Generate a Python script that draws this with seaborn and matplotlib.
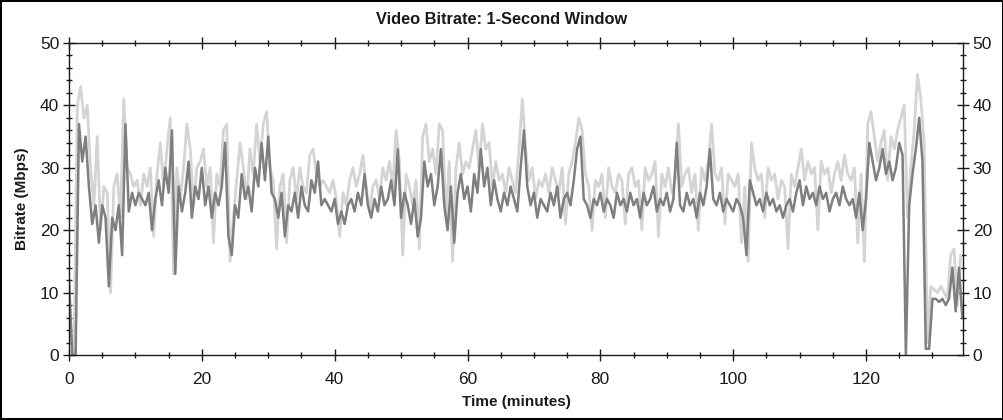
"""Video bitrate over time, 1-second window (dark = average, light = peaks)."""

import matplotlib.pyplot as plt
import numpy as np
import seaborn as sns
from matplotlib.ticker import MultipleLocator

# --- data, Mbps ---
# dark trace, one sample every half minute starting at t = 0
dark_mbps = [
    12, 0, 0, 37, 31, 35, 27, 21, 24, 18,
    24, 22, 11, 22, 20, 24, 16, 37, 23, 26,
    24, 26, 25, 24, 26, 20, 25, 28, 24, 30,
    26, 36, 13, 27, 23, 26, 31, 22, 27, 25,
    30, 24, 27, 22, 26, 24, 27, 34, 19, 16,
    24, 22, 29, 25, 27, 23, 30, 27, 34, 28,
    35, 26, 25, 22, 26, 19, 24, 23, 26, 22,
    27, 24, 23, 28, 26, 31, 24, 25, 24, 23,
    25, 21, 23, 21, 24, 25, 23, 26, 24, 29,
    24, 22, 25, 23, 27, 24, 25, 28, 24, 33,
    22, 26, 24, 21, 25, 19, 22, 31, 27, 29,
    24, 27, 33, 24, 20, 27, 18, 26, 29, 25,
    27, 23, 29, 26, 33, 27, 30, 24, 28, 25,
    23, 26, 24, 27, 25, 23, 30, 36, 27, 24,
    26, 22, 25, 24, 23, 26, 24, 27, 22, 25,
    26, 24, 28, 33, 35, 25, 24, 22, 25, 24,
    26, 23, 25, 24, 22, 26, 24, 25, 23, 26,
    24, 25, 22, 26, 24, 25, 27, 23, 25, 24,
    26, 23, 25, 34, 24, 23, 26, 24, 25, 22,
    26, 24, 27, 33, 25, 24, 26, 23, 25, 24,
    23, 25, 24, 22, 16, 28, 26, 24, 25, 23,
    26, 24, 25, 23, 24, 22, 24, 25, 23, 26,
    28, 24, 27, 25, 26, 24, 27, 25, 26, 23,
    25, 26, 24, 27, 25, 24, 25, 22, 26, 20,
    25, 34, 31, 28, 30, 33, 29, 31, 28, 30,
    34, 32, 0, 24, 29, 33, 38, 31, 1, 1,
    9, 9, 8.5, 9, 8, 9, 14, 7, 14, 6,
]

# light trace (peaks), one sample every half minute starting at t = 0.25
light_mbps = [
    3, 0, 40, 43, 38, 40, 30, 24, 35, 20,
    27, 26, 10, 27, 29, 22, 41, 30, 29, 27,
    28, 24, 29, 27, 30, 19, 29, 34, 27, 33,
    38, 13, 30, 25, 30, 37, 33, 24, 30, 31,
    33, 27, 30, 18, 29, 27, 36, 37, 15, 22,
    28, 34, 30, 25, 33, 29, 37, 31, 37, 39,
    30, 28, 17, 27, 29, 18, 28, 30, 25, 30,
    27, 26, 32, 33, 29, 27, 28, 27, 26, 28,
    25, 19, 26, 24, 28, 30, 27, 29, 32, 27,
    23, 27, 28, 25, 30, 28, 31, 27, 36, 31,
    16, 29, 27, 24, 28, 17, 35, 37, 31, 33,
    29, 37, 36, 22, 31, 15, 30, 34, 29, 31,
    30, 33, 36, 30, 37, 33, 34, 27, 31, 28,
    29, 26, 30, 28, 26, 33, 41, 33, 28, 30,
    25, 28, 27, 29, 26, 30, 28, 26, 30, 21,
    29, 31, 34, 38, 36, 29, 27, 20, 28, 27,
    29, 22, 30, 27, 26, 29, 28, 21, 29, 30,
    27, 28, 20, 30, 28, 29, 31, 19, 29, 27,
    30, 26, 28, 37, 27, 29, 30, 26, 29, 20,
    30, 28, 31, 37, 29, 28, 30, 21, 29, 28,
    27, 29, 18, 27, 15, 34, 30, 28, 29, 22,
    30, 28, 29, 25, 28, 27, 17, 29, 27, 30,
    33, 28, 31, 29, 30, 20, 31, 29, 30, 26,
    29, 31, 28, 32, 29, 28, 30, 18, 29, 15,
    37, 39, 35, 31, 34, 36, 28, 35, 33, 36,
    38, 40, 22, 30, 36, 45, 41, 34, 2, 11,
    10.5, 10, 11, 10, 9, 16, 17, 8, 16,
]

STEP_MIN = 0.5
dark_t = np.arange(len(dark_mbps)) * STEP_MIN
light_t = 0.25 + np.arange(len(light_mbps)) * STEP_MIN

X_MAX = 134.6
Y_MAX = 50

DARK = "#7f7f7f"
LIGHT = "#d4d4d4"
INK = "#1a1a1a"

sns.set_theme(style="white")
plt.rcParams["font.family"] = ["Liberation Sans", "DejaVu Sans"]

fig = plt.figure(figsize=(10.04, 4.2), dpi=100)
fig.patch.set_facecolor("white")
fig.patch.set_edgecolor("black")
fig.patch.set_linewidth(1.5)

ax = fig.add_axes([69 / 1004, 1 - 355 / 420, (963 - 69) / 1004, (355 - 43) / 420])

# peaks first so the average trace sits on top
sns.lineplot(x=light_t, y=light_mbps, ax=ax, color=LIGHT, linewidth=2.0,
             estimator=None)
sns.lineplot(x=dark_t, y=dark_mbps, ax=ax, color=DARK, linewidth=1.8,
             estimator=None)

ax.set_xlim(0, X_MAX)
ax.set_ylim(0, Y_MAX)

# axis frame + ticks on all four sides
for side in ax.spines.values():
    side.set_color(INK)
    side.set_linewidth(1.0)
ax.xaxis.set_major_locator(MultipleLocator(20))
ax.xaxis.set_minor_locator(MultipleLocator(5))
ax.yaxis.set_major_locator(MultipleLocator(10))
ax.yaxis.set_minor_locator(MultipleLocator(2))
ax.tick_params(axis="both", which="major", direction="inout", length=8,
               width=1, color=INK, labelcolor=INK, labelsize=12.5, pad=3)
ax.tick_params(axis="both", which="minor", direction="inout", length=5,
               width=1, color=INK)
ax.tick_params(axis="x", which="both", top=True, bottom=True)
ax.tick_params(axis="y", which="both", left=True, right=True,
               labelleft=True, labelright=True)
ax.tick_params(axis="x", which="major", pad=8)

ax.set_xlabel("Time (minutes)", fontsize=11, fontweight="bold", color=INK,
              labelpad=6)
ax.set_ylabel("Bitrate (Mbps)", fontsize=11, fontweight="bold", color=INK,
              labelpad=8)
fig.text(0.5, 1 - 20 / 420, "Video Bitrate: 1-Second Window", ha="center",
         va="center", fontsize=11.8, fontweight="bold", color=INK)

fig.savefig("out.png", dpi=100, facecolor="white", edgecolor="black")
